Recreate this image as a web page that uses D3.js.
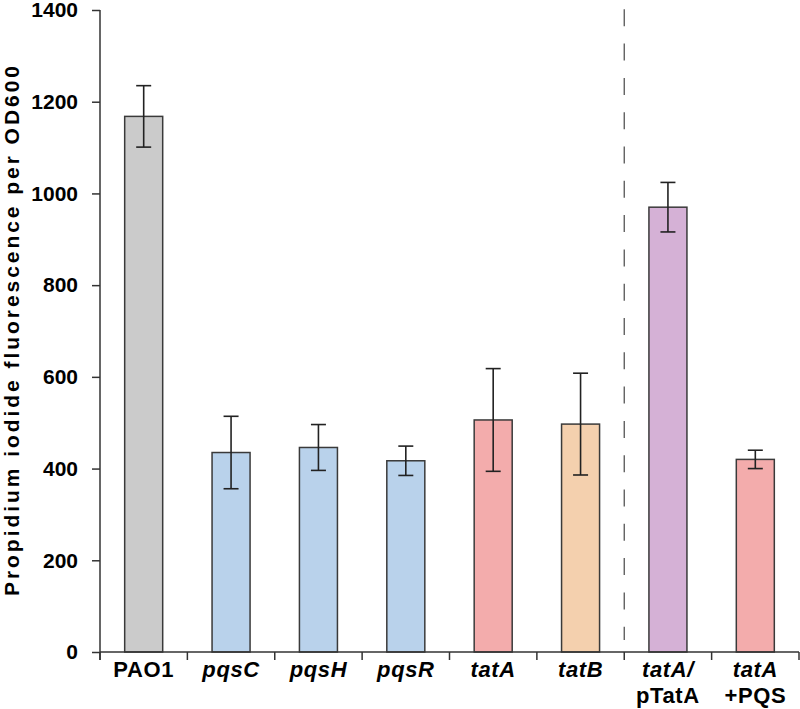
<!DOCTYPE html>
<html>
<head>
<meta charset="utf-8">
<script src="https://cdn.jsdelivr.net/npm/d3@7"></script>
<style>
  html, body { margin: 0; padding: 0; background: #fff; }
  svg { display: block; font-family: "Liberation Sans", Arial, sans-serif; }
</style>
</head>
<body>
<svg id="chart" width="800" height="709"></svg>
<script>
// ---- data ----
const categories = ["PAO1", "pqsC", "pqsH", "pqsR", "tatA", "tatB", "tatA/pTatA", "tatA+PQS"];
const labelLine1 = ["PAO1", "pqsC", "pqsH", "pqsR", "tatA", "tatB", "tatA/", "tatA"];
const labelLine1Italic = [false, true, true, true, true, true, true, true];
const labelLine2 = ["", "", "", "", "", "", "pTatA", "+PQS"];
const values = [1168, 435, 446, 417, 506, 497, 970, 420];
const errors = [67, 79, 50, 32, 112, 111, 54, 20];
const barColors = ["#cbcbcb", "#b9d2eb", "#b9d2eb", "#b9d2eb", "#f3acac", "#f4d0ae", "#d5b1d6", "#f3acac"];
const yTicks = [0, 200, 400, 600, 800, 1000, 1200, 1400];
const yLabel = "Propidium iodide fluorescence per OD600";
const dividerAfter = "tatB";

(function () {
// ---- layout ----
const svg = d3.select("#chart");
const mLeft = 100, mRight = 799, mTop = 10, mBottom = 652;

const x = d3.scaleBand().domain(categories).range([mLeft, mRight]).padding(0);
const y = d3.scaleLinear().domain([0, 1400]).range([mBottom, mTop]);
const barW = x.bandwidth() * 0.435;
const capW = 15;
const ink = "#333";

// bars
svg.append("g").selectAll("rect").data(categories).join("rect")
  .attr("x", (d) => x(d) + (x.bandwidth() - barW) / 2)
  .attr("y", (d, i) => y(values[i]))
  .attr("width", barW)
  .attr("height", (d, i) => y(0) - y(values[i]))
  .attr("fill", (d, i) => barColors[i])
  .attr("stroke", "#3a3a3a")
  .attr("stroke-width", 1.5);

// error bars
const eg = svg.append("g").attr("stroke", "#222").attr("stroke-width", 1.6);
categories.forEach((c, i) => {
  const cx = x(c) + x.bandwidth() / 2;
  const yt = y(values[i] + errors[i]), yb = y(values[i] - errors[i]);
  eg.append("line").attr("x1", cx).attr("x2", cx).attr("y1", yt).attr("y2", yb);
  eg.append("line").attr("x1", cx - capW / 2).attr("x2", cx + capW / 2).attr("y1", yt).attr("y2", yt);
  eg.append("line").attr("x1", cx - capW / 2).attr("x2", cx + capW / 2).attr("y1", yb).attr("y2", yb);
});

// dashed divider
const divX = x(dividerAfter) + x.bandwidth();
svg.append("line")
  .attr("x1", divX).attr("x2", divX)
  .attr("y1", mTop - 0.7).attr("y2", 640)
  .attr("stroke", "#555").attr("stroke-width", 1.3)
  .attr("stroke-dasharray", "17,17.3");

// y axis
const yAxis = svg.append("g").attr("transform", `translate(${mLeft},0)`)
  .call(d3.axisLeft(y).tickValues(yTicks).tickFormat(d3.format("d"))
    .tickSize(8).tickPadding(14).tickSizeOuter(0));
yAxis.select(".domain").attr("stroke", ink).attr("stroke-width", 1.5)
  .attr("d", `M0,${mTop}V${mBottom + 8}`);
yAxis.selectAll(".tick line").attr("stroke", ink).attr("stroke-width", 1.5);
yAxis.selectAll(".tick text")
  .attr("font-family", "Liberation Sans, Arial, sans-serif")
  .attr("font-size", 21).attr("font-weight", "bold").attr("fill", "#000");

// x axis line + ticks at band boundaries
const xg = svg.append("g");
xg.append("line").attr("x1", mLeft).attr("x2", mRight).attr("y1", mBottom).attr("y2", mBottom)
  .attr("stroke", ink).attr("stroke-width", 1.5);
const bounds = categories.map((c) => x(c)).concat([mRight]);
xg.selectAll("line.tk").data(bounds).join("line").attr("class", "tk")
  .attr("x1", (d) => d).attr("x2", (d) => d)
  .attr("y1", mBottom).attr("y2", mBottom + 8)
  .attr("stroke", ink).attr("stroke-width", 1.5);

// x labels
categories.forEach((c, i) => {
  const cx = x(c) + x.bandwidth() / 2;
  xg.append("text").attr("x", cx).attr("y", 677)
    .attr("text-anchor", "middle").attr("font-size", 22).attr("font-weight", "bold")
    .attr("letter-spacing", 0.6)
    .attr("font-style", labelLine1Italic[i] ? "italic" : "normal")
    .text(labelLine1[i]);
  if (labelLine2[i]) {
    xg.append("text").attr("x", cx).attr("y", 703)
      .attr("text-anchor", "middle").attr("font-size", 22).attr("font-weight", "bold")
      .attr("letter-spacing", 0.6)
      .text(labelLine2[i]);
  }
});

// y label
svg.append("text")
  .attr("transform", `translate(19,${(mTop + mBottom) / 2}) rotate(-90)`)
  .attr("text-anchor", "middle").attr("font-size", 21).attr("font-weight", "bold")
  .attr("textLength", 530).attr("lengthAdjust", "spacing")
  .text(yLabel);
})();
</script>
</body>
</html>
